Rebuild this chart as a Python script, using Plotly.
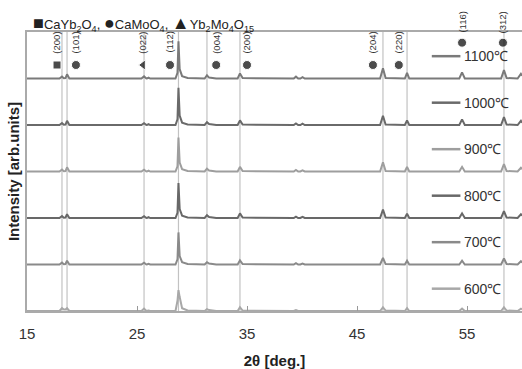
import plotly.graph_objects as go

# ---- data ----
two_theta = [15.0, 17.95, 18.18, 18.35, 18.5, 18.64, 18.85, 25.4, 25.64, 25.85,
             25.95, 26.05, 26.2, 28.5, 28.68, 28.77, 28.88, 29.1, 29.6, 31.15,
             31.36, 31.55, 32.2, 34.15, 34.36, 34.6, 39.25, 39.45, 39.65, 39.85,
             40.05, 40.25, 47.1, 47.36, 47.6, 49.35, 49.55, 49.75, 54.3, 54.55,
             54.8, 58.1, 58.36, 58.6, 59.6, 59.9, 60.0]

temps = ["1100℃", "1000℃", "900℃", "800℃", "700℃", "600℃"]
offsets = [5, 4, 3, 2, 1, 0]

i_1100 = [0, 0, 0.04, 0.005, 0.01, 0.09, 0, 0, 0.045, 0, 0.005, 0.02, 0, 0, 0.12, 0.80, 0.20, 0.05, 0.01,
          0, 0.07, 0.02, 0, 0, 0.11, 0.01, 0, 0.04, 0, 0, 0.03, 0, 0, 0.22, 0.01, 0, 0.12, 0, 0, 0.13,
          0, 0, 0.18, 0.01, 0, 0.10, 0.06]
i_1000 = [0, 0, 0.04, 0.005, 0.01, 0.09, 0, 0, 0.04, 0, 0.005, 0.02, 0, 0, 0.12, 0.80, 0.20, 0.05, 0.01,
          0, 0.06, 0.02, 0, 0, 0.10, 0.01, 0, 0.035, 0, 0, 0.03, 0, 0, 0.20, 0.01, 0, 0.10, 0, 0, 0.12,
          0, 0, 0.17, 0.01, 0, 0.09, 0.05]
i_900 = [0, 0, 0.04, 0.005, 0.01, 0.09, 0, 0, 0.04, 0, 0.005, 0.02, 0, 0, 0.11, 0.73, 0.19, 0.05, 0.01,
         0, 0.06, 0.02, 0, 0, 0.10, 0.01, 0, 0.035, 0, 0, 0.025, 0, 0, 0.20, 0.01, 0, 0.10, 0, 0, 0.10,
         0, 0, 0.16, 0.01, 0, 0.08, 0.05]
i_800 = [0, 0, 0.04, 0.005, 0.01, 0.08, 0, 0, 0.04, 0, 0.005, 0.02, 0, 0, 0.11, 0.75, 0.19, 0.05, 0.01,
         0, 0.06, 0.02, 0, 0, 0.10, 0.01, 0, 0.03, 0, 0, 0.025, 0, 0, 0.18, 0.01, 0, 0.09, 0, 0, 0.10,
         0, 0, 0.15, 0.01, 0, 0.08, 0.05]
i_700 = [0, 0, 0.04, 0.005, 0.01, 0.08, 0, 0, 0.04, 0, 0.005, 0.015, 0, 0, 0.11, 0.69, 0.18, 0.05, 0.01,
         0, 0.05, 0.02, 0, 0, 0.09, 0.01, 0, 0.03, 0, 0, 0.02, 0, 0, 0.14, 0.01, 0, 0.08, 0, 0, 0.08,
         0, 0, 0.13, 0.01, 0, 0.07, 0.04]
i_600 = [0, 0, 0.06, 0.03, 0.03, 0.06, 0, 0, 0.05, 0, 0.005, 0.01, 0, 0, 0.22, 0.45, 0.30, 0.06, 0.01,
         0, 0.04, 0.02, 0, 0, 0.08, 0.01, 0, 0.02, 0, 0, 0.015, 0, 0, 0.08, 0.01, 0, 0.06, 0, 0, 0.05,
         0, 0, 0.08, 0.01, 0, 0.05, 0.03]
intensities = [i_1100, i_1000, i_900, i_800, i_700, i_600]
colors = ["#7a7a7a", "#6a6a6a", "#9e9e9e", "#686868", "#8a8a8a", "#a8a8a8"]

ref_lines = [18.18, 18.64, 25.64, 28.77, 31.36, 34.36, 47.36, 49.55, 58.36]

hkl_labels = ["(200)", "(101)", "(022)", "(112)", "(004)", "(200)", "(204)", "(220)", "(116)", "(312)"]
hkl_x = [17.73, 19.45, 25.55, 28.0, 32.2, 35.0, 46.45, 48.8, 54.55, 58.27]
hkl_symbol = ["square", "circle", "triangle-left", "circle", "circle", "circle", "circle", "circle", "circle", "circle"]
hkl_row = [0, 0, 0, 0, 0, 0, 0, 0, 1, 1]

x_ticks = [15, 25, 35, 45, 55]

fig = go.Figure()

for name, inten, off, col in zip(temps, intensities, offsets, colors):
    fig.add_trace(go.Scatter(x=two_theta, y=[v + off for v in inten], mode="lines",
                             line=dict(color=col, width=2), name=name, showlegend=False))

# reference lines
for xv in ref_lines:
    fig.add_shape(type="line", xref="x", yref="paper", x0=xv, x1=xv, y0=0, y1=1,
                  line=dict(color="#c2c2c2", width=1.2), layer="below")

# phase markers
marker_y = [5.29 if r == 0 else 5.77 for r in hkl_row]
fig.add_trace(go.Scatter(x=hkl_x, y=marker_y, mode="markers", cliponaxis=False, showlegend=False,
                         marker=dict(symbol=hkl_symbol, size=[8 if s == "square" else 9 for s in hkl_symbol],
                                     color="black")))
for lab, xv, r in zip(hkl_labels, hkl_x, hkl_row):
    fig.add_annotation(x=xv, xref="x", yref="paper", y=0.962 if r == 0 else 1.034, text=lab, textangle=-90,
                       showarrow=False, font=dict(size=9.5, color="#333333", family="Liberation Sans"),
                       xanchor="center", yanchor="middle")

# manual legend
for name, off, col in zip(temps, offsets, colors):
    ly = off + 0.48
    fig.add_shape(type="line", xref="x", yref="y", x0=51.8, x1=54.4, y0=ly, y1=ly,
                  line=dict(color=col, width=2.5))
    fig.add_annotation(x=54.5, y=ly, text=name, showarrow=False, xanchor="left", yanchor="middle",
                       font=dict(size=14, color="#333333", family="Liberation Sans"))

# phase legend
sym = '<span style="font-size:18px">{}</span>'
fig.add_annotation(x=0.008, y=1.03, xref="paper", yref="paper", showarrow=False,
                   xanchor="left", yanchor="middle",
                   text=sym.format("■") + "CaYb<sub>2</sub>O<sub>4</sub>, " + sym.format("●")
                        + "CaMoO<sub>4</sub>, " + sym.format("▲") + "Yb<sub>2</sub>Mo<sub>4</sub>O<sub>15</sub>",
                   font=dict(size=13, color="#222222", family="Liberation Sans"))

fig.update_layout(
    width=522, height=369,
    margin=dict(l=27, r=0, t=32, b=58),
    paper_bgcolor="white", plot_bgcolor="white",
    xaxis=dict(range=[15, 60], tickvals=x_ticks, ticktext=[str(t) for t in x_ticks], automargin=False,
               ticks="inside", ticklen=5, tickcolor="#999999", showgrid=False, zeroline=False,
               showline=True, linecolor="#aaaaaa", linewidth=1.5, mirror=True,
               tickfont=dict(size=15, color="#333333", family="Liberation Sans"),
               ticklabelstandoff=8,
               title=dict(text="<b>2θ [deg.]</b>", standoff=15,
                          font=dict(size=15, color="#222222", family="Liberation Sans"))),
    yaxis=dict(range=[0, 6], showticklabels=False, ticks="", showgrid=False, zeroline=False,
               showline=True, linecolor="#aaaaaa", linewidth=1.5, automargin=False,
               title=dict(text="<b>Intensity [arb.units]</b>", standoff=2,
                          font=dict(size=15, color="#222222", family="Liberation Sans"))),
)

fig.write_html("out.html", config={"displayModeBar": False},
               post_script="document.body.style.margin='0';document.body.style.overflow='hidden';")
